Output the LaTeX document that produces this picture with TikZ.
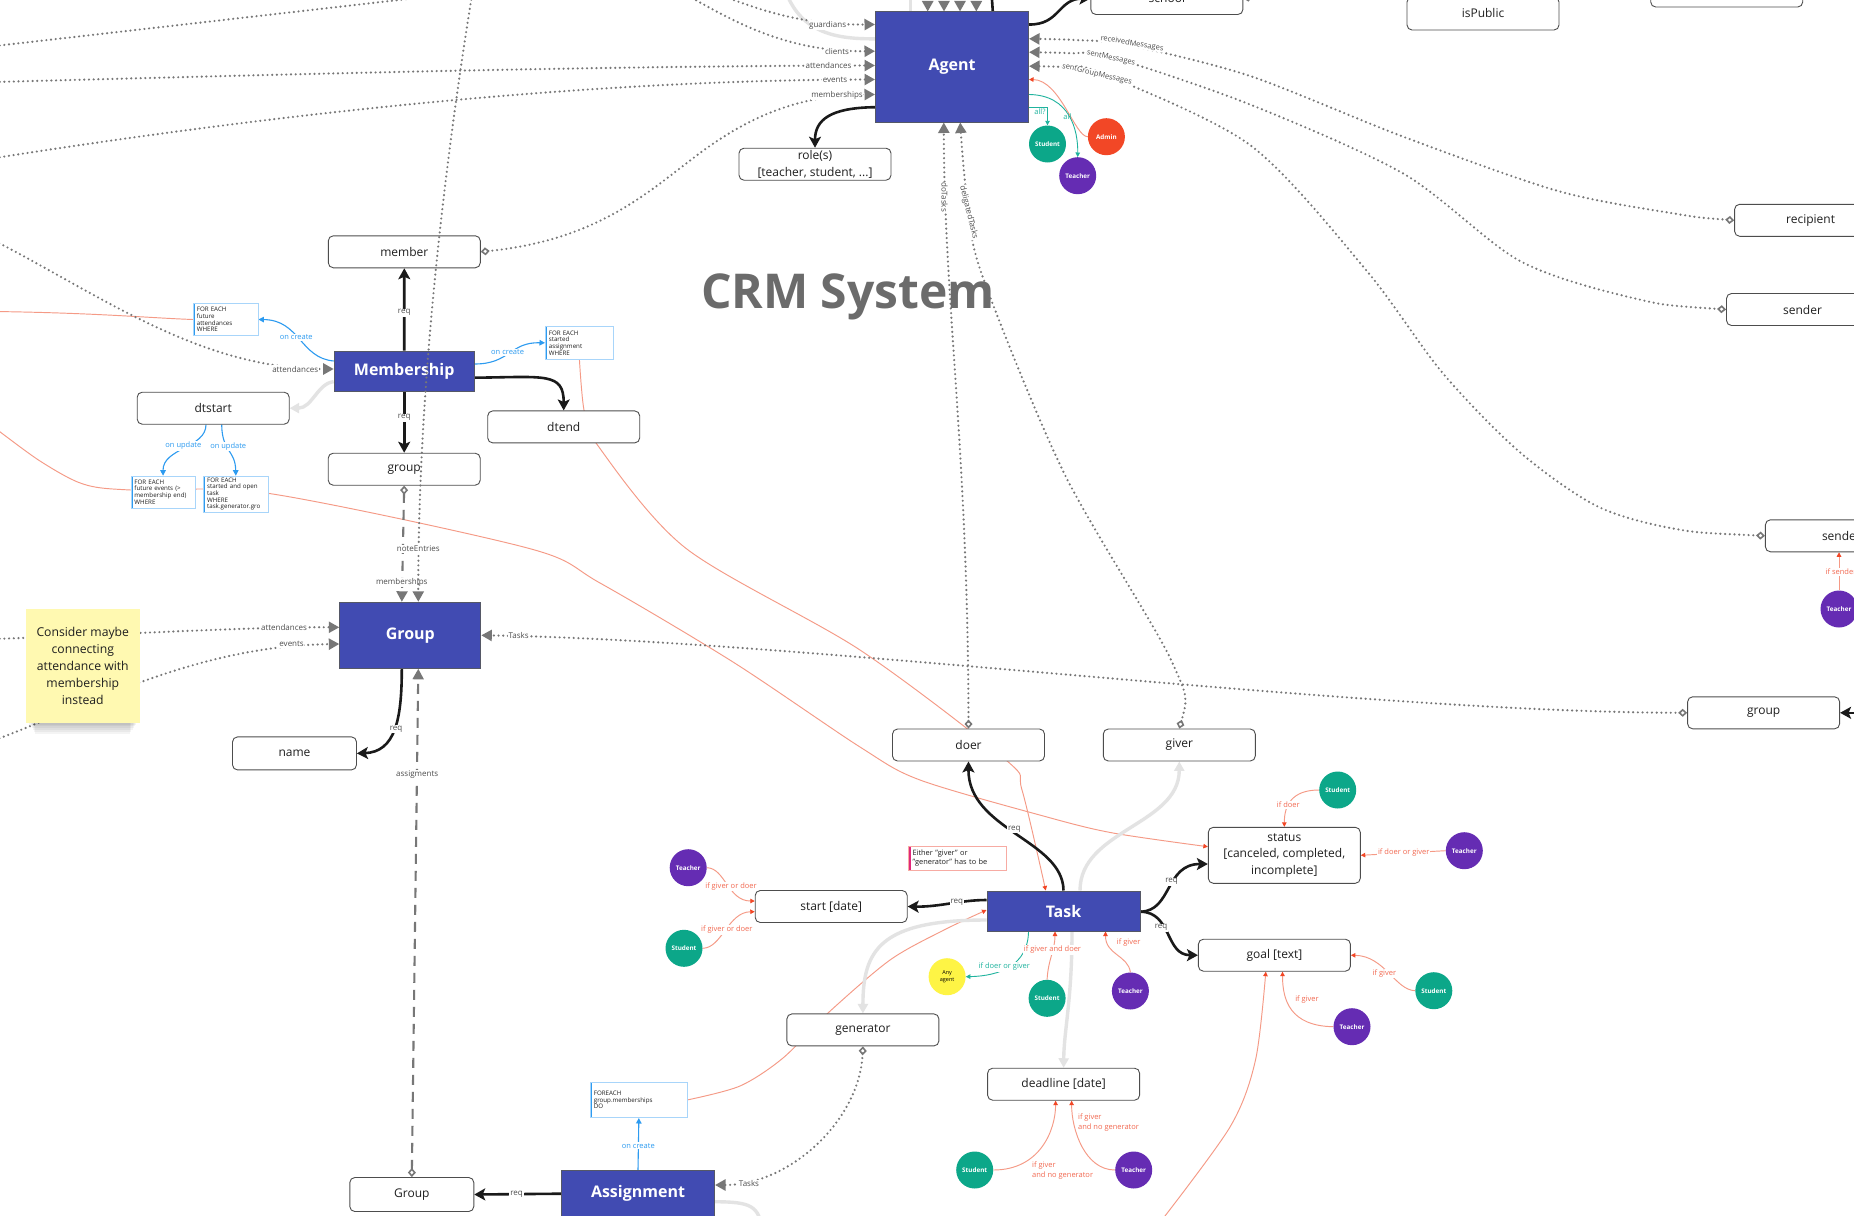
\documentclass[tikz,border=0pt]{standalone}
\usepackage{fontspec}
\setmainfont{Open Sans}
\usetikzlibrary{arrows.meta}
\pgfdeclarelayer{bg}
\pgfsetlayers{bg,main}
\definecolor{entblue}{HTML}{414BB2}
\definecolor{entline}{HTML}{555866}
\definecolor{attrline}{HTML}{4D4D4D}
\definecolor{txt}{HTML}{1F1F1F}
\definecolor{relgray}{HTML}{777777}
\definecolor{rellab}{HTML}{4D4D4D}
\definecolor{lgray}{HTML}{E3E3E3}
\definecolor{redl}{HTML}{F59A86}
\definecolor{redtip}{HTML}{F24726}
\definecolor{redtxt}{HTML}{F26A52}
\definecolor{bluec}{HTML}{2D9BF0}
\definecolor{notebd}{HTML}{A8D5FA}
\definecolor{tealc}{HTML}{1FB39E}
\definecolor{stuc}{HTML}{0CA789}
\definecolor{teac}{HTML}{652CB3}
\definecolor{admc}{HTML}{F24726}
\definecolor{anyc}{HTML}{FEF445}
\definecolor{stickyc}{HTML}{FFF9B1}
\definecolor{titlec}{HTML}{6B6B6B}
\definecolor{pinkbar}{HTML}{E0287A}
\definecolor{pinkbd}{HTML}{F7ABA3}
\definecolor{reqc}{HTML}{1A1A1A}
\tikzset{
  attr/.style={draw=attrline, line width=0.9pt, rounded corners=5pt, fill=white, inner sep=0pt,
    minimum width=152pt, minimum height=32pt, align=center, text=txt,
    font=\fontsize{12}{16.4}\selectfont},
  entity/.style={draw=entline, line width=1pt, fill=entblue, text=white, inner sep=0pt,
    font=\bfseries\fontsize{16}{19}\selectfont},
  rolec/.style={circle, inner sep=0pt, minimum size=37pt, text=white,
    font=\bfseries\fontsize{6.3}{7}\selectfont},
  stud/.style={rolec, fill=stuc},
  teach/.style={rolec, fill=teac},
  admin/.style={rolec, fill=admc},
  anyag/.style={rolec, fill=anyc, text=black, align=center, font=\fontsize{5.5}{6.5}\selectfont},
  note/.style={draw=notebd, line width=0.7pt, fill=white, anchor=north west, inner xsep=3.5pt,
    inner ysep=1pt, align=left, text=txt, font=\fontsize{6.2}{6.7}\selectfont,
    path picture={\fill[bluec] (path picture bounding box.north west) rectangle
      ([xshift=1.8pt]path picture bounding box.south west);}},
  warnnote/.style={note, draw=pinkbd, font=\fontsize{7.4}{8.4}\selectfont, inner xsep=4.5pt,
    path picture={\fill[pinkbar] (path picture bounding box.north west) rectangle
      ([xshift=2.6pt]path picture bounding box.south west);}},
  sticky/.style={fill=stickyc, minimum width=114pt, minimum height=114pt, inner sep=0pt,
    align=center, text=txt, font=\fontsize{12.2}{17}\selectfont},
  shadowpiece/.style={fill=black, opacity=0.045, draw=none},
  rel/.style={draw=relgray, line width=2.4pt, dash pattern=on 0pt off 4.7pt, line cap=round},
  relarr/.style={rel, -{Triangle[length=10.5pt,width=11pt]}},
  reldia/.style={rel, {Diamond[open,length=9pt,width=8pt,line width=1.6pt]}-{Triangle[length=10.5pt,width=11pt]}},
  relds/.style={draw=relgray, line width=2.1pt, dash pattern=on 10pt off 7pt,
    {Diamond[open,length=9pt,width=8pt,line width=1.6pt]}-{Triangle[length=10.5pt,width=11pt]}},
  rl/.style={font=\fontsize{8}{9}\selectfont, text=rellab, fill=white, inner sep=0.6pt},
  rls/.style={rl, font=\fontsize{7.5}{8}\selectfont, inner sep=0.3pt},
  req/.style={draw=reqc, line width=2.6pt, -{Stealth[length=11pt,width=12pt,inset=2.5pt]}},
  reqline/.style={draw=reqc, line width=2.6pt},
  reql/.style={font=\fontsize{8}{9}\selectfont, text=rellab, fill=white, inner sep=1pt},
  lgarr/.style={draw=lgray, line width=3.4pt, -{Triangle[length=9.5pt,width=10pt]}},
  lgline/.style={draw=lgray, line width=3.4pt},
  redline/.style={draw=redl, line width=0.95pt},
  redlinearr/.style={redline, -{Triangle[length=4.5pt,width=4.5pt,color=redtip]}},
  redarr/.style={draw=redl, line width=0.95pt, -{Triangle[length=4.5pt,width=4.5pt,color=redtip]}},
  redlab/.style={font=\fontsize{7.5}{8.5}\selectfont, text=redtxt, fill=white, inner sep=0.8pt},
  redlab2/.style={font=\fontsize{7.5}{10}\selectfont, text=redtxt, inner sep=0.5pt, align=left, anchor=west},
  bluearr/.style={draw=bluec, line width=1.1pt, -{Triangle[length=5.5pt,width=5.5pt]}},
  bluelab/.style={font=\fontsize{7.5}{8.5}\selectfont, text=bluec, fill=white, inner sep=0.8pt},
  tealarr/.style={draw=tealc, line width=0.9pt, -{Triangle[length=4.5pt,width=4.5pt]}},
  teallab/.style={font=\fontsize{7.5}{8.5}\selectfont, text=tealc, fill=white, inner sep=0.8pt},
  titlest/.style={font=\bfseries\fontsize{48}{56}\selectfont, text=titlec},
}
\begin{document}
\begin{tikzpicture}[x=1pt,y=-1pt]
\useasboundingbox (0,0) rectangle (1854,1215);

% ---------------- title
\node[titlest] (title) at (848,297) {CRM System};

% ---------------- entities
\node[entity, minimum width=153pt, minimum height=110pt] (agent) at (952,67) {Agent};
\node[entity, minimum width=140pt, minimum height=40pt] (membership) at (404.2,371) {Membership};
\node[entity, minimum width=141pt, minimum height=66pt] (grp) at (410.3,635.3) {Group};
\node[entity, minimum width=153pt, minimum height=40pt] (task) at (1063.5,911) {Task};
\node[entity, minimum width=153pt, minimum height=46pt] (assign) at (638,1193.7) {Assignment};

% ---------------- attributes
\node[attr] (member) at (404.3,251.8) {member};
\node[attr] (grouplc) at (404.2,469.2) {group};
\node[attr] (dtstart) at (213.2,408.2) {dtstart};
\node[attr] (dtend) at (563.7,426.9) {dtend};
\node[attr, minimum width=124pt, minimum height=33pt] (name) at (294.5,753.4) {name};
\node[attr] (role) at (815,164.2) {role(s)\\{}[teacher, student, ...]};
\node[attr] (doer) at (968.5,745) {doer};
\node[attr] (giver) at (1179.3,745) {giver};
\node[attr, minimum height=56pt] (status) at (1284.3,855.3) {status\\{}[canceled, completed,\\incomplete]};
\node[attr] (goal) at (1274.4,955.2) {goal [text]};
\node[attr] (start) at (831.2,906.5) {start [date]};
\node[attr] (generator) at (862.9,1029.9) {generator};
\node[attr] (deadline) at (1063.6,1084.2) {deadline [date]};
\node[attr, minimum width=124pt, minimum height=34pt] (groupsm) at (411.8,1194.5) {Group};
\node[attr] (groupr) at (1763.6,712.8) {group};
\node[attr] (recipient) at (1810.6,220.3) {recipient};
\node[attr] (sender) at (1802.5,309.5) {sender};
\node[attr] (sendertwo) at (1841.4,535.8) {sender};
\node[attr, minimum height=33pt] (ispublic) at (1483,13.5) {isPublic};
\node[attr] (school) at (1166.9,-1.5) {school};
\node[attr] (topbox) at (1726.7,-9) {};

% ---------------- role circles
\node[stud] (stA) at (1047.5,144) {Student};
\node[admin] (admA) at (1106.4,136.7) {Admin};
\node[teach] (teA) at (1077.7,175.7) {Teacher};
\node[teach] (teS) at (688.2,867.7) {Teacher};
\node[stud] (stS) at (684,948.3) {Student};
\node[anyag] (anyA) at (947.1,976.7) {Any\\agent};
\node[stud] (stT) at (1047.1,998.3) {Student};
\node[teach] (teT) at (1130.4,991) {Teacher};
\node[stud] (stSt) at (1337.7,790) {Student};
\node[teach] (teSt) at (1464.3,850.7) {Teacher};
\node[stud] (stG) at (1433.8,990.7) {Student};
\node[teach] (teG) at (1352,1026.7) {Teacher};
\node[stud] (stD) at (974.7,1170) {Student};
\node[teach] (teD) at (1133.7,1170) {Teacher};
\node[teach] (teR) at (1839,609) {Teacher};

% ---------------- notes
\node[note, minimum width=64.7pt, minimum height=31.7pt, text width=57.7pt] (fa) at (193,303.3) {FOR EACH\\future\\attendances\\WHERE};
\node[note, minimum width=68.2pt, minimum height=33.6pt, text width=61.2pt] (sa) at (545,325.7) {FOR EACH\\started\\assignment\\WHERE};
\node[note, minimum width=64.3pt, minimum height=32pt, text width=57.3pt] (fe) at (130.6,475.7) {FOR EACH\\future events (>\\membership end)\\WHERE};
\node[note, minimum width=64.3pt, minimum height=36pt, text width=57.3pt] (so) at (203.3,475.7) {FOR EACH\\started and open\\task\\WHERE\\task.generator.gro};
\node[note, minimum width=97pt, minimum height=35.6pt, text width=90pt] (fg) at (590,1081.7) {FOREACH\\group.memberships\\DO};
\node[warnnote, minimum width=98pt, minimum height=24.3pt, text width=89pt] (either) at (907.7,845.7) {Either "giver" or\\"generator" has to be};

% sticky note with a soft shadow under its lower edge
\foreach \i in {1,...,7} {
  \fill[shadowpiece] (27+1.2*\i,700) rectangle (138.5-1.2*\i,721+1.8*\i);
}
\node[sticky] (sticky) at (82.8,665.5) {Consider maybe\\connecting\\attendance with\\membership\\instead};

% ---------------- free ends
\coordinate (lA) at (-5,46);   \coordinate (lB) at (425,-3);
\coordinate (gS) at (712,-8);
\coordinate (cS) at (692,-2);
\coordinate (aAS) at (-5,82);
\coordinate (eAS) at (-5,158);
\coordinate (aMS) at (-5,241);
\coordinate (gaS) at (-5,639);
\coordinate (geS) at (-5,740);
\coordinate (lcS) at (-5,311.5);
\coordinate (lbS) at (-5,428);
\coordinate (leS) at (1158,1225);
\coordinate (nES) at (472,-5);
\coordinate (agT) at (991,-15);
\coordinate (tA) at (927.7,-20);
\coordinate (tB) at (944,-20);
\coordinate (tC) at (960,-20);
\coordinate (tD) at (976.3,-20);
\coordinate (lgA) at (910.5,-10);
\coordinate (lgB) at (785,-10);
\coordinate (schE) at (1300,-12);
\coordinate (grS) at (1900,712.8);
\coordinate (lgE) at (762,1232);

\begin{pgfonlayer}{bg}
\fill[white] (-10,-10) rectangle (1864,1225);
% long red lines
\draw[redline] (lcS) .. controls (100,313) and (150,318) .. (fa.west);
\draw[redlinearr] plot[smooth] coordinates {(lbS) (40,461) (83,484) (130.6,490) (268,493.3) (528.6,548.3) (600,583) (733,662) (860,747) (920,780) (1047,817) (1113,833) ([yshift=8.6pt]status.west)};
\draw[redlinearr] plot[smooth] coordinates {(sa.south) (584,410) (596,443) (685.5,548) (860,650) (1006,760) (1022,790) ([xshift=-17.8pt]task.north)};
\draw[redlinearr] plot[smooth] coordinates {(fg.east) (740,1086) (783,1058) (828,1013) (890,960) (944,930) ([yshift=1pt]task.west)};
\draw[redlinearr] plot[smooth] coordinates {(leS) (1230,1127) (1255.5,1060) ([xshift=-8.6pt]goal.south)};

% light gray
\draw[lgline] (lgA) -- ([xshift=-41.5pt]agent.north);
\draw[lgline] (lgB) .. controls (800,30) and (830,39.3) .. ([yshift=-27.3pt]agent.north west);
\draw[lgarr] ([yshift=-10.7pt]membership.west) .. controls (318,383) and (312,408) .. (dtstart.east);
\draw[lgarr] ([xshift=16.5pt]task.north) .. controls (1080,830) and (1179,825) .. (giver.south);
\draw[lgarr] ([xshift=8.5pt]task.south) .. controls (1072,1000) and (1064,1030) .. (deadline.north);
\draw[lgarr] ([yshift=-9pt]task.west) .. controls (880,920) and (863,950) .. (generator.north);
\draw[lgline] ([yshift=-8pt]assign.east) .. controls (750,1202) and (760,1205) .. (lgE);

% dotted relations
\draw[rel] (lA) -- (lB);
\draw[relarr] (gS) .. controls (760,10) and (800,25) .. ([yshift=-13pt]agent.north west);
\draw[relarr] (cS) .. controls (740,25) and (790,51.7) .. ([yshift=-39.7pt]agent.north west);
\draw[relarr] (aAS) .. controls (300,74) and (600,66) .. ([yshift=-54pt]agent.north west);
\draw[relarr] (eAS) .. controls (300,110) and (600,80) .. ([yshift=-68pt]agent.north west);
\draw[reldia] (member.east) .. controls (600,240) and (650,190) .. (700,153) .. controls (750,116) and (800,95) .. ([yshift=-83pt]agent.north west);
\draw[relarr] (tA) -- ([xshift=-24.3pt]agent.north);
\draw[relarr] (tB) -- ([xshift=-8pt]agent.north);
\draw[relarr] (tC) -- ([xshift=8pt]agent.north);
\draw[relarr] (tD) -- ([xshift=24.3pt]agent.north);
\draw[rel, {Diamond[open,length=9pt,width=8pt,line width=1.6pt]}-] (school.east) -- (schE);
\draw[reldia] plot[smooth] coordinates {(recipient.west) (1674,213.5) (1558,191) (1404,137) (1250,76) (1128,45) (1075,40) ([yshift=-27.3pt]agent.north east)};
\draw[reldia] plot[smooth] coordinates {(sender.west) (1635,298.5) (1520,261) (1404,174) (1250,104.5) (1111,57) (1070,53.2) ([yshift=-40.7pt]agent.north east)};
\draw[reldia] plot[smooth] coordinates {(sendertwo.west) (1673.7,528.6) (1596.7,506) (1519.6,452) (1442.6,373) (1365.6,269.5) (1250,145) (1100,72.7) (1065,67.2) ([yshift=-54.7pt]agent.north east)};
\draw[reldia] (doer.north) .. controls (968,450) and (944,300) .. ([xshift=-8.2pt]agent.south);
\draw[reldia] plot[smooth] coordinates {(giver.north) (1172,662) (1064,473) (981,272) (966,190) ([xshift=8.2pt]agent.south)};
\draw[relarr] (aMS) .. controls (100,295) and (200,369) .. ([yshift=2pt]membership.west);
\draw[relds] (grouplc.south) -- ([xshift=-8.5pt]grp.north);
\draw[relarr] (gaS) .. controls (150,633) and (250,627) .. ([yshift=8pt]grp.west);
\draw[relarr] (geS) .. controls (100,700) and (200,646) .. ([yshift=-8.7pt]grp.west);
\draw[reldia] (groupr.west) .. controls (1350,712) and (800,640) .. (grp.east);
\draw[relds] (groupsm.north) -- ([xshift=8pt]grp.south);
\draw[reldia] (generator.south) .. controls (860,1120) and (790,1185) .. ([yshift=8.7pt]assign.east);

% required (black)
\draw[reqline] ([xshift=40.8pt]agent.north) -- (agT);
\draw[req] ([yshift=-13pt]agent.north east) .. controls (1060,25) and (1058,-1.5) .. (school.west);
\draw[req] ([yshift=-95.7pt]agent.north west) .. controls (830,107.7) and (815,120) .. (role.north);
\draw[req] (membership.north) -- (member.south);
\draw[req] (membership.south) -- (grouplc.north);
\draw[req] ([yshift=-6.7pt]membership.east) .. controls (545,377) and (563.7,372) .. (dtend.north);
\draw[req] ([xshift=-8.5pt]grp.south) .. controls (401.8,720) and (395,752) .. (name.east);
\draw[req] (grS) -- (groupr.east);
\draw[req] (task.north) .. controls (1063,840) and (968,830) .. (doer.south);
\draw[req] ([yshift=-0.7pt]task.east) .. controls (1172,911) and (1165,864) .. ([yshift=-8.7pt]status.west);
\draw[req] ([yshift=-0.7pt]task.east) .. controls (1172,912) and (1165,955) .. (goal.west);
\draw[req] ([yshift=11pt]task.west) .. controls (960,900) and (940,907) .. (start.east);
\draw[req] (assign.west) -- (groupsm.east);

% blue triggers
\draw[bluearr] ([yshift=10pt]membership.west) .. controls (300,358) and (300,320) .. (fa.east);
\draw[bluearr] ([yshift=7pt]membership.east) .. controls (510,364) and (510,342) .. (sa.west);
\draw[bluearr] ([xshift=-7.2pt]dtstart.south) .. controls (206,448) and (162.7,448) .. (fe.north);
\draw[bluearr] ([xshift=8.5pt]dtstart.south) .. controls (222,452) and (235.4,450) .. (so.north);
\draw[bluearr] (assign.north) -- (fg.south);

% teal
\draw[tealarr] ([yshift=-95.7pt]agent.north east) -| (stA.north);
\draw[tealarr] ([yshift=-83pt]agent.north east) .. controls (1070,95) and (1078,130) .. (teA.north);
\draw[tealarr] ([xshift=-35pt]task.south) .. controls (1028,965) and (1000,976) .. (anyA.east);

% red permissions
\draw[redarr] (admA.west) .. controls (1075,137) and (1060,80) .. ([yshift=-68pt]agent.north east);
\draw[redarr] (teS.east) .. controls (725,868) and (728,901) .. ([yshift=5.5pt]start.west);
\draw[redarr] (stS.east) .. controls (722,948) and (728,912) .. ([yshift=-5.2pt]start.west);
\draw[redarr] (stT.north) .. controls (1048,960) and (1055,950) .. ([xshift=-8.5pt]task.south);
\draw[redarr] (teT.north) .. controls (1128,955) and (1105.4,955) .. ([xshift=42pt]task.south);
\draw[redarr] (stSt.west) .. controls (1292,790) and (1284.3,805) .. (status.north);
\draw[redarr] (teSt.west) -- (status.east);
\draw[redarr] (stG.west) .. controls (1395,990) and (1385,956) .. (goal.east);
\draw[redarr] (teG.west) .. controls (1290,1026) and (1282.5,1000) .. ([xshift=8.1pt]goal.south);
\draw[redarr] (stD.east) .. controls (1040,1170) and (1055.6,1130) .. ([xshift=-8pt]deadline.south);
\draw[redarr] (teD.west) .. controls (1085,1170) and (1071.6,1130) .. ([xshift=8pt]deadline.south);
\draw[redarr] (teR.north) -- (teR.north |- sendertwo.south);

% ---------------- labels
\node[rl] (k1) at (827.6,25) {guardians};
\node[rl] (k2) at (837,51.7) {clients};
\node[rl] (k3) at (828.6,66) {attendances};
\node[rl] (k4) at (835,80) {events};
\node[rl] (k5) at (837,95) {memberships};
\node[rls, rotate=-9.5] (k6) at (1132,43.5) {receivedMessages};
\node[rls, rotate=-12.4] (k7) at (1111,58) {sentMessages};
\node[rls, rotate=-13.3] (k8) at (1097,74.5) {sentGroupMessages};
\node[rl, rotate=-90] (k9) at (944.6,197) {doTasks};
\node[rl, rotate=-76] (k10) at (968.7,212.5) {deligatedTasks};
\node[rl] (k11) at (295.2,369) {attendances};
\node[rl] (k12) at (401.8,582.3) {memberships};
\node[rl] (k13) at (284,627.3) {attendances};
\node[rl] (k14) at (291.6,644.3) {events};
\node[rl] (k15) at (518.6,635.7) {Tasks};
\node[rl] (k16) at (417.2,774.3) {assigments};
\node[rl] (k17) at (749,1183.3) {Tasks};
\node[reql] (q1) at (404.2,312.7) {req};
\node[reql] (q2) at (404.2,417.7) {req};
\node[reql] (q3) at (396,729.3) {req};
\node[reql] (q4) at (1014.3,829.3) {req};
\node[reql] (q5) at (956.8,902.3) {req};
\node[reql] (q6) at (1171.6,881.7) {req};
\node[reql] (q7) at (1161,927.7) {req};
\node[reql] (q8) at (516.6,1194) {req};
\node[bluelab] (b1) at (296.3,337.3) {on create};
\node[bluelab] (b2) at (507.6,352.3) {on create};
\node[bluelab] (b3) at (183.4,446) {on update};
\node[bluelab] (b4) at (228.2,446.7) {on update};
\node[bluelab] (b5) at (638.3,1145.7) {on create};
\node[teallab, fill=none] (c1) at (1040,111.5) {all?};
\node[teallab, fill=none] (c2) at (1067.4,116.7) {all};
\node[teallab] (c3) at (1004.3,967) {if doer or giver};
\node[redlab] (r1) at (731,886.7) {if giver or doer};
\node[redlab] (r2) at (726.8,930) {if giver or doer};
\node[redlab] (r3) at (1052.5,950) {if giver and doer};
\node[redlab] (r4) at (1128.6,942.7) {if giver};
\node[redlab] (r5) at (1288.3,805) {if doer};
\node[redlab] (r6) at (1403.7,852.3) {if doer or giver};
\node[redlab] (r7) at (1384.4,973.3) {if giver};
\node[redlab] (r8) at (1307,1000) {if giver};
\node[redlab] (r9) at (1841,572) {if sender};
\node[redlab2] (r10) at (1031.5,1171) {if giver\\and no generator};
\node[redlab2] (r11) at (1077.4,1123) {if giver\\and no generator};
\end{pgfonlayer}

% dotted line drawn over the boxes
\draw[relarr] (nES) .. controls (455,100) and (418,350) .. ([xshift=8pt]grp.north);
\node[rl] (k18) at (418.3,549) {noteEntries};
\end{tikzpicture}
\end{document}
